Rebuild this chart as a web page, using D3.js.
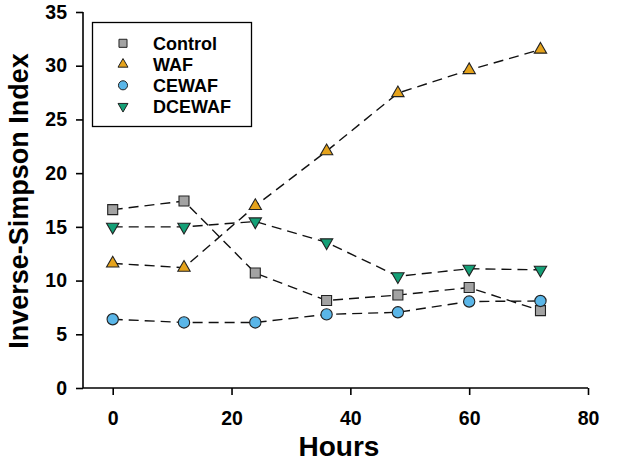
<!DOCTYPE html>
<html><head><meta charset="utf-8">
<script src="https://cdn.jsdelivr.net/npm/d3@7"></script>
<style>body{margin:0;background:#fff}svg{display:block}text{font-family:"Liberation Sans",Arial,sans-serif;font-weight:bold;fill:#000}</style>
</head><body><svg id="c" width="638" height="463"></svg>
<script>
const hours = [0, 12, 24, 36, 48, 60, 72];
const seriesNames = ["Control", "WAF", "CEWAF", "DCEWAF"];
const control = [16.6, 17.4, 10.7, 8.15, 8.65, 9.35, 7.2];
const waf = [11.6, 11.2, 16.95, 22.05, 27.45, 29.6, 31.5];
const cewaf = [6.4, 6.1, 6.1, 6.85, 7.05, 8.05, 8.1];
const dcewaf = [15.0, 15.0, 15.5, 13.55, 10.4, 11.1, 11.0];
const xTicks = [0, 20, 40, 60, 80];
const yTicks = [0, 5, 10, 15, 20, 25, 30, 35];

const svg = d3.select("#c");
const x = d3.scaleLinear().domain([-5, 80]).range([83, 588]);
const y = d3.scaleLinear().domain([0, 35]).range([388, 12]);

const styles = [
  {name: seriesNames[0], data: control, sym: d3.symbolSquare, size: 100, color: "#a3a3a3", rot: 0},
  {name: seriesNames[1], data: waf, sym: d3.symbolTriangle, size: 66, color: "#e5a31c", rot: 0},
  {name: seriesNames[2], data: cewaf, sym: d3.symbolCircle, size: 100, color: "#5ab6e8", rot: 0},
  {name: seriesNames[3], data: dcewaf, sym: d3.symbolTriangle, size: 66, color: "#14a077", rot: 180}
];

// axes
const ya = svg.append("g").attr("transform", "translate(83,0)")
  .call(d3.axisLeft(y).tickValues(yTicks).tickSize(7).tickPadding(9).tickSizeOuter(0));
const xa = svg.append("g").attr("transform", "translate(0,388)")
  .call(d3.axisBottom(x).tickValues(xTicks).tickSize(7).tickPadding(16).tickSizeOuter(0));
[ya, xa].forEach(a => {
  a.selectAll("path,line").attr("stroke", "#000").attr("stroke-width", 1.6);
  a.selectAll("text").attr("font-size", 19.5).style("font-family", '"Liberation Sans",Arial,sans-serif').style("font-weight", "bold");
});
xa.select("path").attr("d", "M83,0H588");
ya.select("path").attr("d", "M0,12V388");

// lines
const line = d3.line().x((d, i) => x(hours[i])).y(d => y(d));
styles.forEach(s => {
  svg.append("path").attr("d", line(s.data)).attr("fill", "none")
    .attr("stroke", "#111").attr("stroke-width", 1.4).attr("stroke-dasharray", "10,6");
});
// markers
styles.forEach(s => {
  svg.append("g").selectAll("path").data(s.data).join("path")
    .attr("d", d3.symbol().type(s.sym).size(s.size))
    .attr("transform", (d, i) => `translate(${x(hours[i])},${y(d)}) rotate(${s.rot})`)
    .attr("fill", s.color).attr("stroke", "#222").attr("stroke-width", 1.1);
});

// legend
const lg = svg.append("g");
lg.append("rect").attr("x", 92.5).attr("y", 22.5).attr("width", 159).attr("height", 104)
  .attr("fill", "#fff").attr("stroke", "#000").attr("stroke-width", 1.3);
styles.forEach((s, i) => {
  const yy = 43.3 + i * 21;
  lg.append("path").attr("d", d3.symbol().type(s.sym).size(s.size * 0.65))
    .attr("transform", `translate(123,${yy}) rotate(${s.rot})`)
    .attr("fill", s.color).attr("stroke", "#222").attr("stroke-width", 1);
  lg.append("text").attr("x", 153).attr("y", yy + 6.3).attr("font-size", 18).text(s.name);
});

// titles
svg.append("text").attr("x", 339).attr("y", 456).attr("text-anchor", "middle").attr("font-size", 28).text("Hours");
svg.append("text").attr("transform", "translate(28,201) rotate(-90)").attr("text-anchor", "middle").attr("font-size", 27).text("Inverse-Simpson Index");
</script></body></html>
